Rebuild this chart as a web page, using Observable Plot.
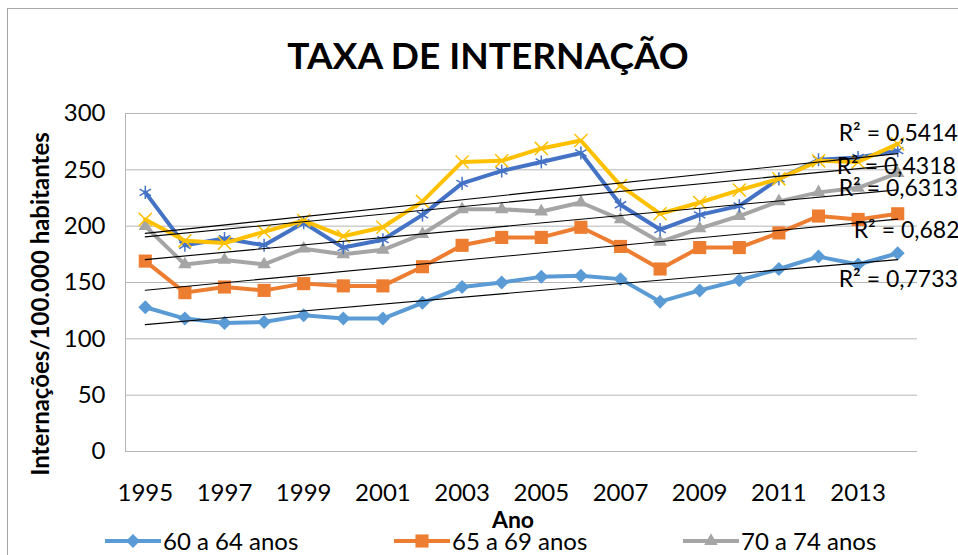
<!DOCTYPE html>
<html><head><meta charset="utf-8">
<script src="https://cdn.jsdelivr.net/npm/d3@7"></script>
<script src="https://cdn.jsdelivr.net/npm/@observablehq/plot@0.6"></script>
<style>
html,body{margin:0;padding:0;background:#fff;}
body{width:958px;height:555px;overflow:hidden;position:relative;font-family:Lato,"Open Sans",sans-serif;color:#000;}
#frame{position:absolute;left:7px;top:8px;width:1000px;height:600px;border:1px solid #a6a6a6;box-sizing:border-box;}
#title{position:absolute;left:0;width:976px;top:36px;text-align:center;font-weight:bold;font-size:37px;line-height:1;}
#chart{position:absolute;left:0;top:95px;}
#ylabel{position:absolute;left:40px;top:304px;transform:translate(-50%,-50%) rotate(-90deg);white-space:nowrap;font-weight:bold;font-size:24px;line-height:1;}
#xlabel{position:absolute;left:513px;top:519px;transform:translate(-50%,-50%);font-weight:bold;font-size:23px;line-height:1;}
#legend{position:absolute;left:105px;top:528px;width:880px;display:flex;flex-wrap:wrap;}
.item{width:289px;display:flex;align-items:center;font-size:24px;line-height:26px;}
.item svg{display:block;margin-right:2px;}
</style></head>
<body>
<div id="frame"></div>
<div id="title">TAXA DE INTERNAÇÃO</div>
<div id="chart"></div>
<div id="ylabel">Internações/100.000 habitantes</div>
<div id="xlabel">Ano</div>
<div id="legend"></div>
<script>
const years = [1995,1996,1997,1998,1999,2000,2001,2002,2003,2004,2005,2006,2007,2008,2009,2010,2011,2012,2013,2014];
const xTicks = [1995,1997,1999,2001,2003,2005,2007,2009,2011,2013];
const yTicks = [0,50,100,150,200,250,300];
const seriesNames = ["60 a 64 anos","65 a 69 anos","70 a 74 anos","75 a 79 anos","80 anos e mais"];
const v6064 = [128,118,114,115,121,118,118,132,146,150,155,156,153,133,143,152,162,173,166,176];
const v6569 = [169,141,146,143,149,147,147,164,183,190,190,199,182,162,181,181,194,209,206,211];
const v7074 = [200,166,170,166,180,175,179,193,215,215,213,221,206,186,198,209,222,230,234,247];
const v7579 = [230,183,189,183,203,181,188,210,238,249,257,265,219,197,210,218,242,259,261,267];
const v80 = [206,187,185,195,205,191,199,222,257,258,269,276,236,211,221,232,242,258,257,273];
const r2Labels = ["R² = 0,7733","R² = 0,682","R² = 0,6313","R² = 0,4318","R² = 0,5414"];

const values = [v6064, v6569, v7074, v7579, v80];
const colors = ["#5B9BD5","#ED7D31","#A5A5A5","#4472C4","#FFC000"];
const symbols = ["diamond2","square","triangle","asterisk","times"];
const symR = [6.3, 7.4, 5.0, 6.2, 6.0];
const filled = [true, true, true, false, false];
const r2Dx = [-59,-44,-59,-61,-59];
const r2Dy = [20,11,-1,2,-20];

const rows = seriesNames.flatMap((name,i) => years.map((year,j) => ({series:name, year, value: values[i][j]})));

function regEnd(vals){
  const n = years.length;
  const mx = d3.mean(years), my = d3.mean(vals);
  let sxy=0, sxx=0;
  years.forEach((x,k)=>{ sxy += (x-mx)*(vals[k]-my); sxx += (x-mx)*(x-mx); });
  const b = sxy/sxx;
  return my + b*(years[n-1]-mx);
}

const marks = [
  Plot.ruleY(yTicks, {stroke:"#b5b5b5", strokeWidth:1}),
  Plot.ruleX([years[0]-0.5], {stroke:"#b5b5b5", strokeWidth:1})
];
seriesNames.forEach((name,i) => {
  const d = rows.filter(r => r.series === name);
  marks.push(Plot.line(d, {x:"year", y:"value", stroke:colors[i], strokeWidth:4, strokeLinejoin:"round"}));
  marks.push(Plot.dot(d, filled[i]
    ? {x:"year", y:"value", symbol:()=>symbols[i], r:symR[i], fill:colors[i], stroke:"none"}
    : {x:"year", y:"value", symbol:()=>symbols[i], r:symR[i], fill:"none", stroke:colors[i], strokeWidth:1.5}));
});
marks.push(Plot.linearRegressionY(rows, {x:"year", y:"value", z:"series", stroke:"black", strokeWidth:1.1, ci:0}));
r2Labels.forEach((lab,i) => {
  marks.push(Plot.text([{x: years[years.length-1], y: regEnd(values[i]), t: lab}],
    {x:"x", y:"y", text:"t", dx:r2Dx[i], dy:r2Dy[i], textAnchor:"start", fontSize:23, fill:"black"}));
});
marks.push(Plot.axisX({ticks:xTicks, tickSize:0, tickPadding:32, tickFormat:d=>String(d), label:null, fontSize:24}));
marks.push(Plot.axisY({ticks:yTicks, tickSize:0, tickPadding:20, label:null, fontSize:24}));

const chart = Plot.plot({
  width:958, height:420,
  marginLeft:125, marginRight:41, marginTop:18, marginBottom:64,
  x:{type:"linear", domain:[years[0]-0.5, years[years.length-1]+0.5]},
  y:{domain:[yTicks[0], yTicks[yTicks.length-1]]},
  symbol:{type:"identity"},
  style:{fontFamily:"Lato, sans-serif", fontSize:"23px", color:"#000", background:"transparent", overflow:"visible"},
  marks
});
document.getElementById("chart").appendChild(chart);

const legend = document.getElementById("legend");
const symMap = {diamond2:d3.symbolDiamond2, square:d3.symbolSquare, triangle:d3.symbolTriangle, asterisk:d3.symbolAsterisk, times:d3.symbolTimes};
seriesNames.forEach((name,i) => {
  const item = document.createElement("div");
  item.className = "item";
  const svg = d3.create("svg").attr("width",56).attr("height",20);
  svg.append("line").attr("x1",0).attr("x2",56).attr("y1",10).attr("y2",10).attr("stroke",colors[i]).attr("stroke-width",4);
  const p = d3.symbol(symMap[symbols[i]], Math.PI*symR[i]*symR[i])();
  svg.append("path").attr("d",p).attr("transform","translate(28,10)")
    .attr("fill", filled[i] ? colors[i] : "none").attr("stroke", filled[i] ? "none" : colors[i]).attr("stroke-width",1.5);
  item.appendChild(svg.node());
  const span = document.createElement("span");
  span.textContent = name;
  item.appendChild(span);
  legend.appendChild(item);
});
</script>
</body></html>
